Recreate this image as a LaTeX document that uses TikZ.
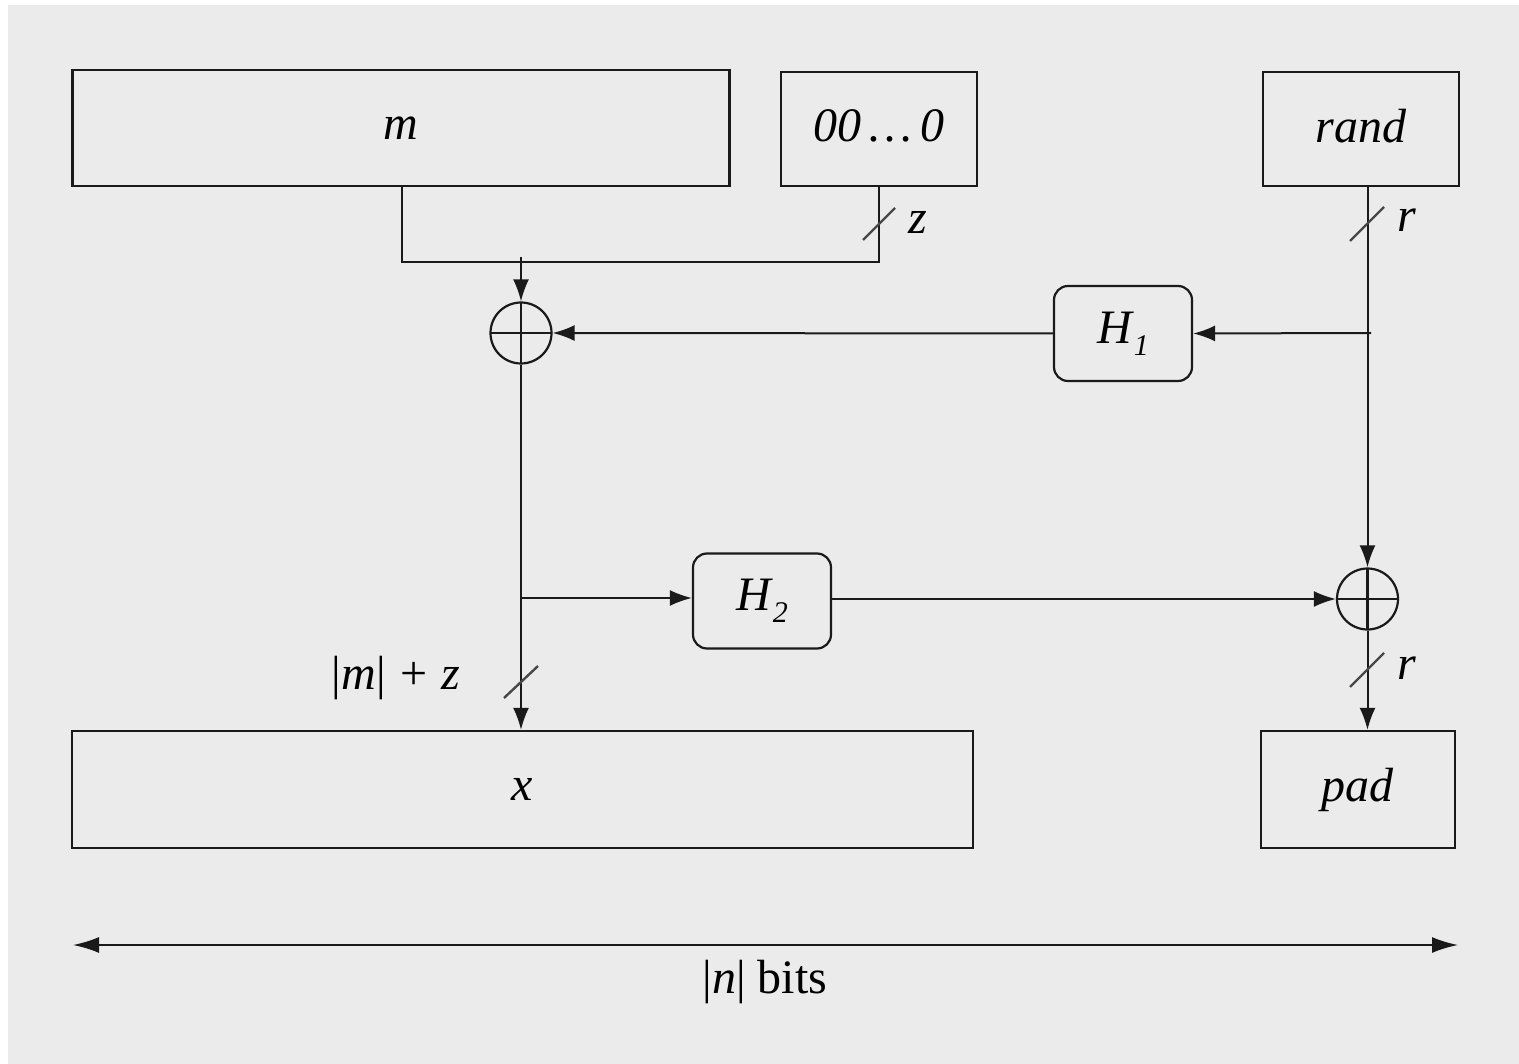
\documentclass[tikz,border=0pt]{standalone}
\usepackage{fontspec}
\setmainfont{Liberation Serif}
\usetikzlibrary{arrows.meta}
\definecolor{bg}{HTML}{EBEBEB}
\definecolor{ln}{HTML}{1A1A1A}
\newcommand{\subs}[1]{\raisebox{-0.55ex}{\fontsize{30}{30}\selectfont\itshape #1}}
\begin{document}
\begin{tikzpicture}[x=1pt,y=-1pt,
  every node/.style={font=\fontsize{48}{56}\selectfont},
  box/.style={draw=ln, line width=2.2pt, inner sep=0pt},
  hbox/.style={box, rounded corners=14pt, minimum width=138pt, minimum height=95pt},
  xorn/.style={draw=ln, line width=2.2pt, circle, minimum size=61pt, inner sep=0pt,
     path picture={\draw[ln, line width=2.2pt] (path picture bounding box.west) -- (path picture bounding box.east)
       (path picture bounding box.north) -- (path picture bounding box.south);}},
  wire/.style={draw=ln, line width=2pt},
  arr/.style={wire, -{Latex[length=22pt,width=16pt]}},
  slash/.style={draw=ln!80, line width=2.4pt}]
\fill[white] (0,0) rectangle (1519,1064);
\fill[bg] (8,5) rectangle (1519,1064);
\useasboundingbox (0,0) rectangle (1519,1064);
% boxes
\node[box, minimum width=657pt, minimum height=116pt] (m) at (401,128) {\textit{m}};
\node[box, minimum width=196pt, minimum height=114pt] (zero) at (879,129) {\raisebox{7pt}{\textit{00\,\dots\,0}}};
\node[box, minimum width=196pt, minimum height=114pt] (rand) at (1361,129) {\raisebox{7pt}{\textit{rand}}};
\node[box, minimum width=901pt, minimum height=117pt] (xb) at (522.5,789.5) {\textit{x}};
\node[box, minimum width=194pt, minimum height=117pt] (pad) at (1358,789.5) {\raisebox{-4pt}{\textit{pad}}};
\node[hbox] (H1) at (1123,333.5) {\textit{H}\subs{1}};
\node[hbox] (H2) at (762,601) {\textit{H}\subs{2}};
\node[xorn] (X1) at (521,333) {};
\node[xorn] (X2) at (1367.5,599) {};
% junctions
\coordinate (j1) at (402,262);
\coordinate (j2) at (879,262);
\coordinate (j3) at (521,257);
\coordinate (j4) at (1371,333);
\coordinate (j5) at (521,598);
\coordinate (nl) at (73,945);
\coordinate (nr) at (1458,945);
% connectors
\draw[wire] (m.south -| j1) |- (j2) -- (zero.south);
\draw[arr] (j3) -- (X1.north);
\draw[arr] (H1.west) -- (X1.east);
\draw[arr] (rand.south -| X2.north) -- (X2.north);
\draw[arr] (j4) -- (H1.east);
\draw[arr] (X1.south) -- (X1.south |- xb.north);
\draw[arr] (j5) -- (j5 -| H2.west);
\draw[arr] (H2.east |- X2.west) -- (X2.west);
\draw[arr] (X2.south) -- (X2.south |- pad.north);
\draw[wire, {Latex[length=26pt,width=16pt]}-{Latex[length=26pt,width=16pt]}] (nl) -- (nr);
% slashes
\draw[slash] (879,224) +(-16,16) -- +(16,-16);
\draw[slash] (1367,224) +(-17,17) -- +(17,-17);
\draw[slash] (521,682) +(-17,16) -- +(17,-16);
\draw[slash] (1367,670) +(-17,17) -- +(17,-17);
% labels
\node (lz) at (918,222) {\textit{z}};
\node (lr1) at (1407,220) {\textit{r}};
\node (lmz) at (396,678) {|\textit{m}|\hspace{0.3em}+\hspace{0.3em}\textit{z}};
\node (lr2) at (1407,668) {\textit{r}};
\node (lbits) at (765,982) {|\textit{n}| bits};
\end{tikzpicture}
\end{document}
